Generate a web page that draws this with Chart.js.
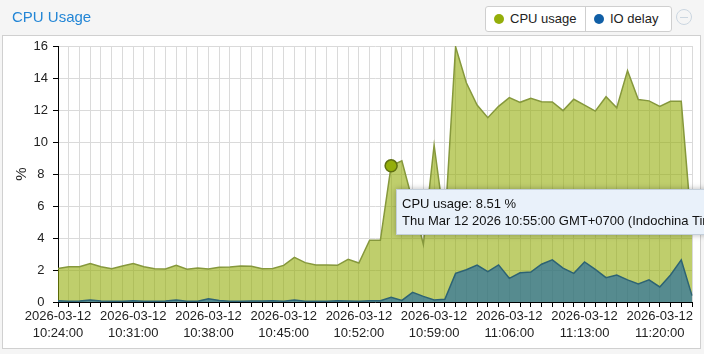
<!DOCTYPE html>
<html>
<head>
<meta charset="utf-8">
<script src="https://cdn.jsdelivr.net/npm/chart.js@4/dist/chart.umd.min.js"></script>
<style>
  html, body { margin:0; padding:0; width:704px; height:354px; overflow:hidden; background:#f5f5f5; font-family:"Liberation Sans", Arial, sans-serif; }
  #panel { position:absolute; left:2px; top:35px; width:697px; height:312px; background:#fff; border:1px solid #d0d0d0; z-index:0; }
  #wrap { position:absolute; left:0; top:0; width:704px; height:354px; z-index:1; }
  #title { position:absolute; left:12px; top:8px; font-size:15px; color:#2386d6; z-index:2; line-height:18px; }
  #legend { position:absolute; left:485px; top:6px; width:185px; height:24px; background:#fff; border:1px solid #cfcfcf; border-radius:3px; z-index:2; font-size:13px; color:#222; }
  .item { position:absolute; top:0; height:24px; line-height:24px; white-space:nowrap; }
  .dot { display:inline-block; width:10px; height:10px; border-radius:50%; vertical-align:middle; margin-right:6px; position:relative; top:-1px; }
  #sep { position:absolute; left:99px; top:0; width:1px; height:24px; background:#cfcfcf; }
  #minus { position:absolute; left:676px; top:9px; width:16px; height:16px; border:1px solid #cbd6e0; border-radius:50%; z-index:2; box-sizing:border-box; }
  #minus:after { content:""; position:absolute; left:3px; top:6.5px; width:8px; height:1px; background:#cbd6e0; }
  #tip { position:absolute; z-index:3; background:#e9f1fa; border:1px solid #c3cfdb; box-shadow:0 0 6px rgba(0,0,0,0.28); padding:5px 8px 5px 5px; font-size:13px; line-height:17px; color:#111; white-space:nowrap; display:none; }
</style>
</head>
<body>
<div id="panel"></div>
<div id="title">CPU Usage</div>
<div id="legend">
  <div class="item" style="left:8px"><span class="dot" style="background:#94ae0a"></span>CPU usage</div>
  <div id="sep"></div>
  <div class="item" style="left:108px"><span class="dot" style="background:#115fa6"></span>IO delay</div>
</div>
<div id="minus"></div>
<div id="wrap"><canvas id="c" width="704" height="354"></canvas></div>
<div id="tip"></div>
<script>
const dateLabel = '2026-03-12';
const tooltipDay = 'Thu Mar 12 2026';
const tooltipZone = 'GMT+0700 (Indochina Time)';
const times = [
  '10:24:00','10:25:00','10:26:00','10:27:00','10:28:00','10:29:00','10:30:00','10:31:00','10:32:00','10:33:00',
  '10:34:00','10:35:00','10:36:00','10:37:00','10:38:00','10:39:00','10:40:00','10:41:00','10:42:00','10:43:00',
  '10:44:00','10:45:00','10:46:00','10:47:00','10:48:00','10:49:00','10:50:00','10:51:00','10:52:00','10:53:00',
  '10:54:00','10:55:00','10:56:00','10:57:00','10:58:00','10:59:00','11:00:00','11:01:00','11:02:00','11:03:00',
  '11:04:00','11:05:00','11:06:00','11:07:00','11:08:00','11:09:00','11:10:00','11:11:00','11:12:00','11:13:00',
  '11:14:00','11:15:00','11:16:00','11:17:00','11:18:00','11:19:00','11:20:00','11:21:00','11:22:00','11:23:00'
];
const cpuUsage = [
  2.10, 2.20, 2.20, 2.40, 2.20, 2.08, 2.25, 2.40, 2.20, 2.08,
  2.07, 2.30, 2.05, 2.12, 2.07, 2.17, 2.19, 2.25, 2.23, 2.08,
  2.10, 2.29, 2.79, 2.46, 2.31, 2.31, 2.29, 2.67, 2.44, 3.86,
  3.86, 8.51, 8.83, 6.30, 3.60, 9.80, 4.80, 15.95, 13.70, 12.31,
  11.52, 12.23, 12.77, 12.48, 12.73, 12.52, 12.50, 11.96, 12.67, 12.31,
  11.93, 12.83, 12.14, 14.46, 12.65, 12.57, 12.23, 12.54, 12.54, 4.40
];
const ioDelay = [
  0.08, 0.05, 0.06, 0.12, 0.06, 0.05, 0.04, 0.08, 0.05, 0.04,
  0.06, 0.12, 0.05, 0.05, 0.20, 0.10, 0.05, 0.05, 0.06, 0.06,
  0.08, 0.05, 0.12, 0.05, 0.04, 0.05, 0.08, 0.06, 0.05, 0.08,
  0.08, 0.30, 0.10, 0.60, 0.35, 0.12, 0.17, 1.79, 2.02, 2.31,
  1.90, 2.32, 1.48, 1.83, 1.87, 2.36, 2.63, 2.12, 1.79, 2.50,
  2.04, 1.52, 1.69, 1.38, 1.13, 1.38, 0.94, 1.69, 2.63, 0.40
];
const yTicks = [0, 2, 4, 6, 8, 10, 12, 14, 16];
const labelEvery = 7;
const hoverIndex = 31;

const FONT = '"Liberation Sans", Arial, sans-serif';
const tip = document.getElementById('tip');

const chart = new Chart(document.getElementById('c'), {
  type: 'line',
  data: {
    labels: times,
    datasets: [
      {
        label: 'CPU usage', data: cpuUsage, order: 2,
        fill: 'origin', backgroundColor: 'rgba(148,174,10,0.6)',
        borderColor: '#86983c', borderWidth: 1.5, tension: 0,
        pointRadius: 0, pointHoverRadius: 6, pointHitRadius: 0,
        pointHoverBackgroundColor: '#94ae0a', pointHoverBorderColor: '#5f7010', pointHoverBorderWidth: 1.5
      },
      {
        label: 'IO delay', data: ioDelay, order: 1,
        fill: 'origin', backgroundColor: 'rgba(17,95,166,0.6)',
        borderColor: '#2d6374', borderWidth: 1.5, tension: 0,
        pointRadius: 0, pointHoverRadius: 6, pointHitRadius: 0,
        pointHoverBackgroundColor: '#115fa6', pointHoverBorderColor: '#0b3f70', pointHoverBorderWidth: 1.5
      }
    ]
  },
  options: {
    responsive: false,
    animation: false,
    devicePixelRatio: 1,
    events: [],
    layout: { padding: { top: 46, right: 12, bottom: 0, left: 0 } },
    plugins: {
      legend: { display: false },
      title: { display: false },
      tooltip: {
        enabled: false,
        animation: false,
        mode: 'nearest',
        intersect: false,
        external: (ctx) => {
          const tt = ctx.tooltip;
          if (!tt.dataPoints || !tt.dataPoints.length) { tip.style.display = 'none'; return; }
          const dp = tt.dataPoints[0];
          tip.innerHTML = '<div>' + dp.dataset.label + ': ' + dp.parsed.y.toFixed(2) + ' %</div>' +
                          '<div>' + tooltipDay + ' ' + times[dp.dataIndex] + ' ' + tooltipZone + '</div>';
          tip.style.left = Math.round(tt.caretX + 5) + 'px';
          tip.style.top = Math.round(tt.caretY + 23) + 'px';
          tip.style.display = 'block';
        }
      }
    },
    scales: {
      x: {
        type: 'category',
        offset: false,
        grid: { color: '#dadada', lineWidth: 1, tickColor: '#000', tickLength: 5, drawTicks: true },
        border: { color: '#000', width: 1 },
        ticks: {
          autoSkip: false, maxRotation: 0, minRotation: 0, padding: 1, color: '#222',
          font: { family: FONT, size: 13, lineHeight: 1.3 },
          callback: (v, i) => (i % labelEvery === 0 ? [dateLabel, times[i]] : '')
        },
        afterFit: (s) => { s.height = 52; }
      },
      y: {
        min: yTicks[0], max: yTicks[yTicks.length - 1],
        afterBuildTicks: (s) => { s.ticks = yTicks.map(v => ({ value: v })); },
        grid: { color: '#dadada', lineWidth: 1, tickColor: '#000', tickLength: 5 },
        border: { color: '#000', width: 1 },
        ticks: { crossAlign: 'center', padding: 5, color: '#222', font: { family: FONT, size: 13 } },
        title: { display: true, text: '%', color: '#222', font: { family: FONT, size: 15 }, padding: { top: 13, bottom: 0 } },
        afterFit: (s) => { s.width = 58; }
      }
    }
  }
});

const active = [{ datasetIndex: 0, index: hoverIndex }];
chart.setActiveElements(active);
chart.tooltip.setActiveElements(active, { x: 0, y: 0 });
chart.update();
</script>
</body>
</html>
